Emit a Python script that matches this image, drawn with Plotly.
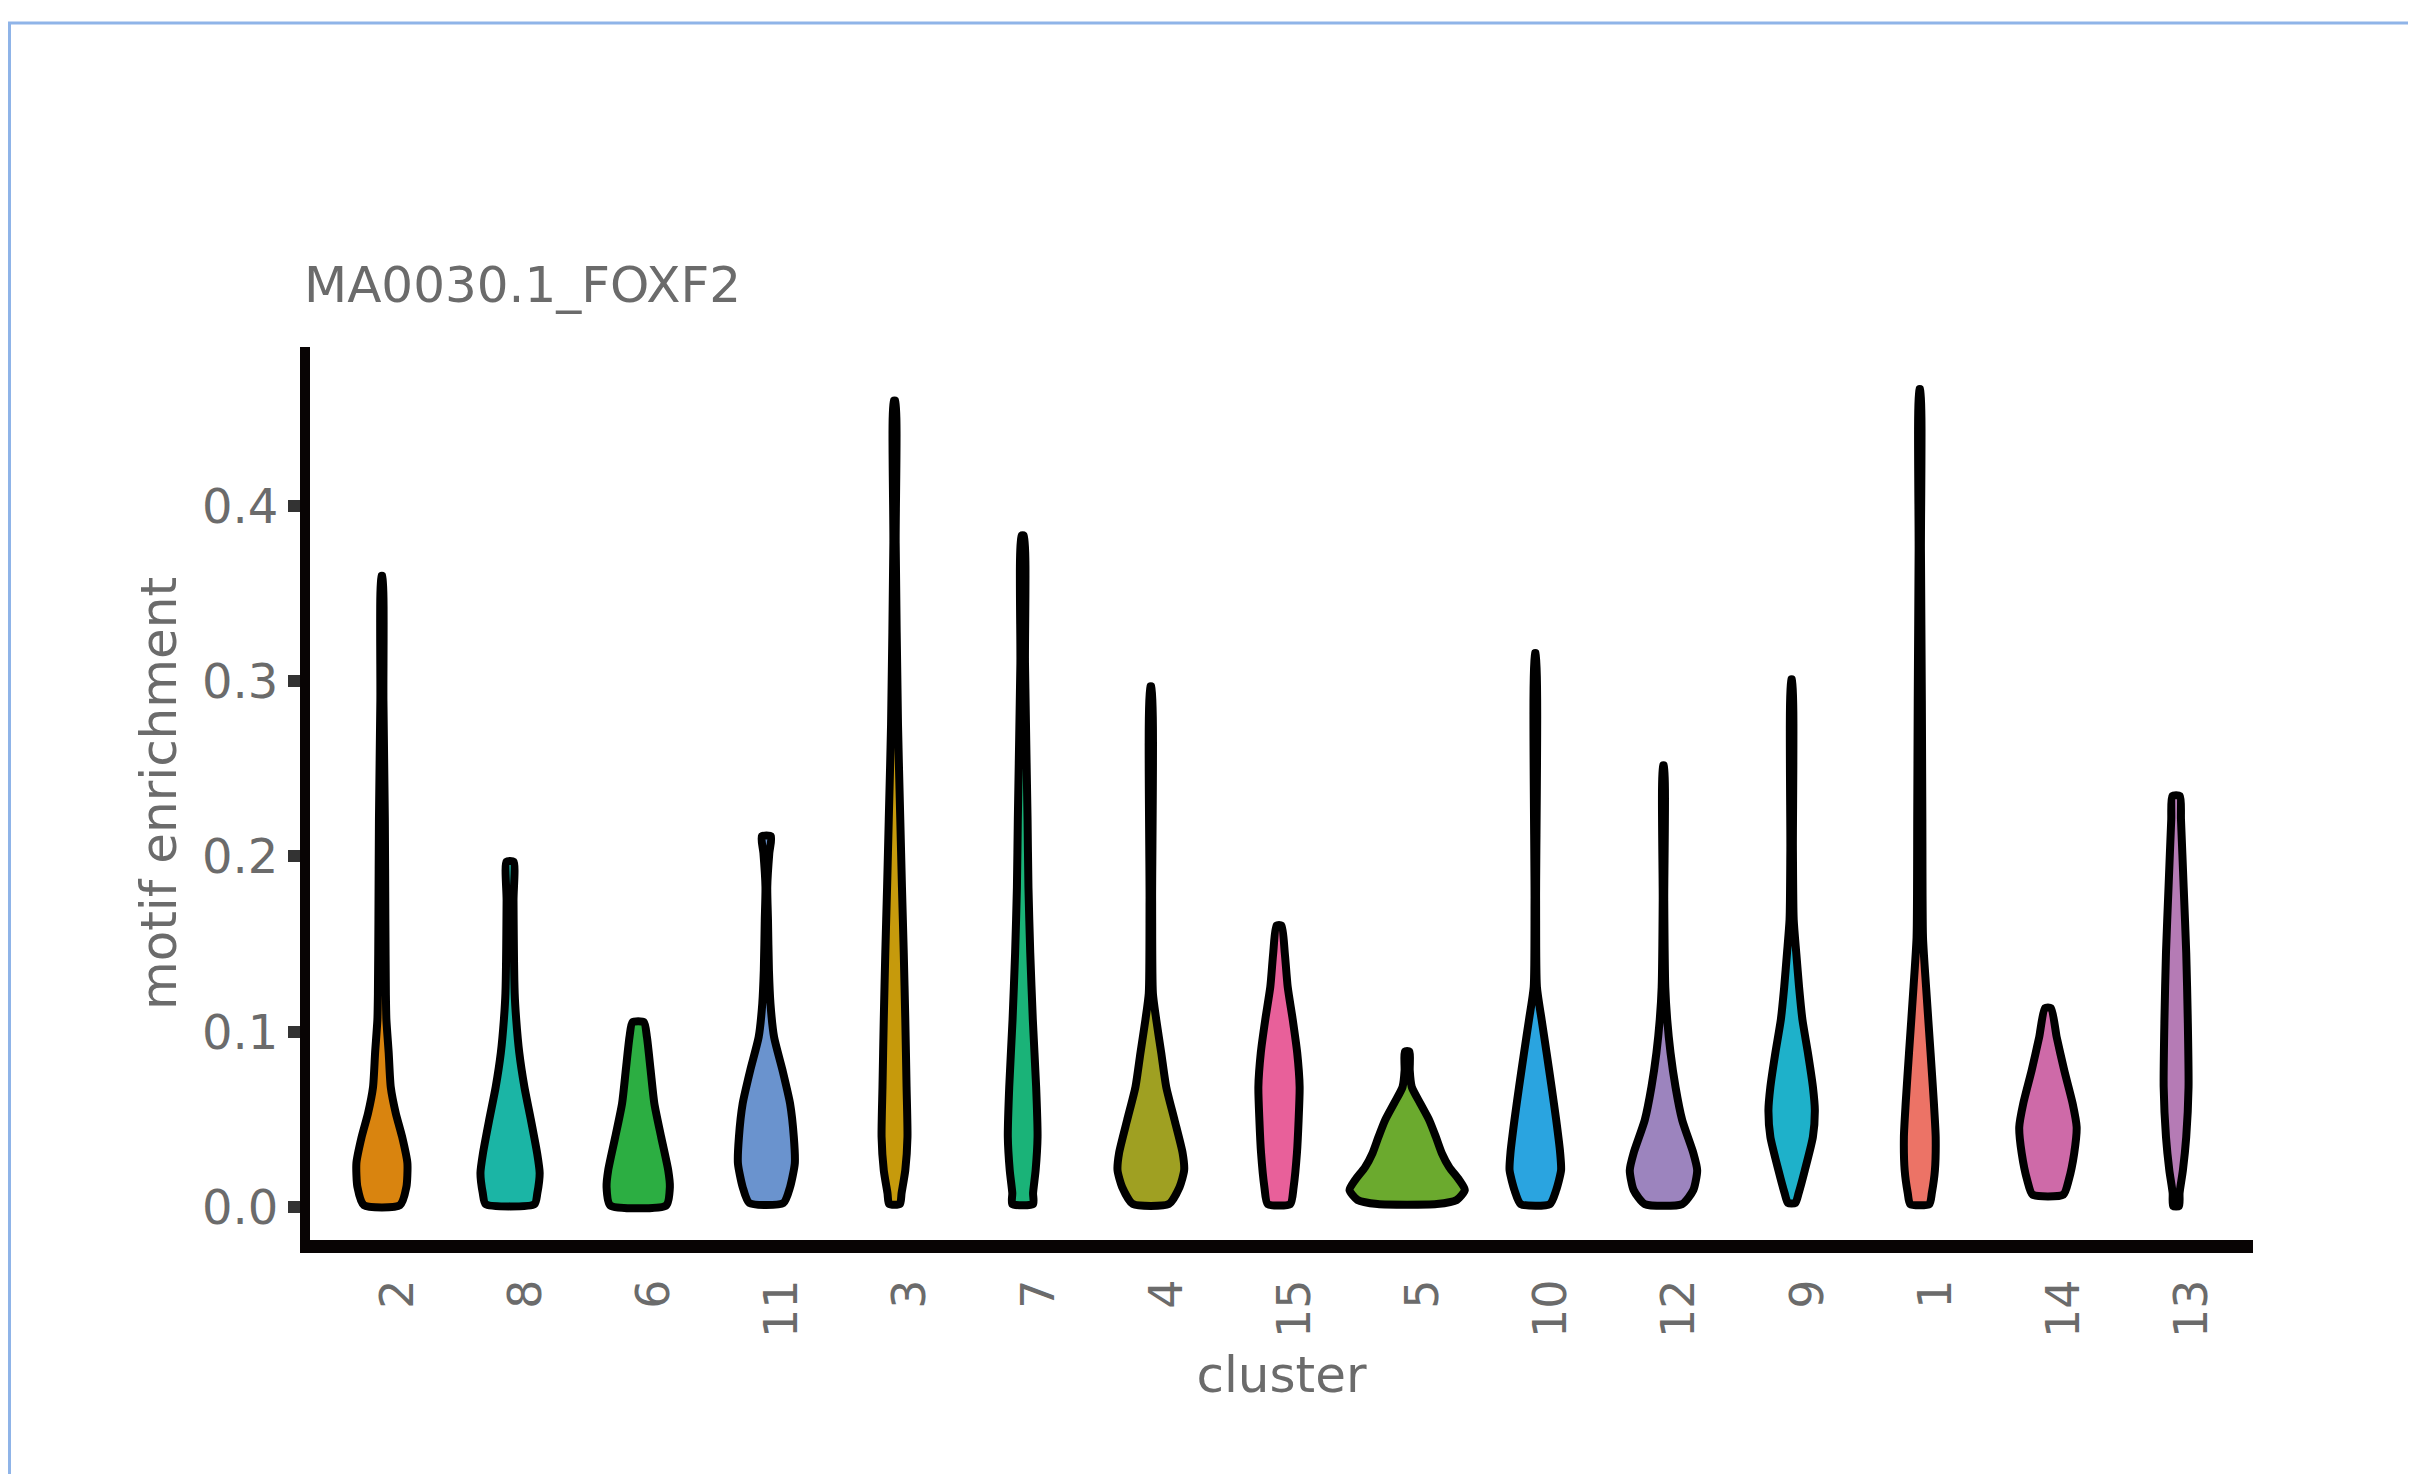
import plotly.graph_objects as go

# ---------------- data ----------------
clusters = ["2", "8", "6", "11", "3", "7", "4", "15", "5", "10", "12", "9", "1", "14", "13"]
colors = ["#D9840F", "#1BB5A5", "#2CAE42", "#6A93CE", "#C69A0C", "#1AB378", "#9FA022",
          "#E8609A", "#6BAA2E", "#2AA4E0", "#9C84BE", "#1EB1CA", "#EC7366", "#CE6AA8", "#B57BB5"]

# violin outlines: motif enrichment levels (bottom -> top) and half-widths (in category units)
c2_y = [0.001, 0.0114, 0.025, 0.040, 0.0536, 0.0685, 0.088, 0.107, 0.122, 0.164, 0.221, 0.289, 0.360]
c2_w = [0.140, 0.191, 0.199, 0.158, 0.108, 0.069, 0.053, 0.035, 0.031, 0.027, 0.023, 0.012, 0.004]
c8_y = [0.0017, 0.008, 0.0194, 0.0308, 0.0496, 0.0685, 0.088, 0.107, 0.122, 0.175, 0.197]
c8_w = [0.191, 0.213, 0.231, 0.211, 0.163, 0.112, 0.072, 0.048, 0.036, 0.027, 0.027]
c6_y = [0.001, 0.0114, 0.021, 0.040, 0.059, 0.078, 0.097, 0.1055]
c6_w = [0.219, 0.247, 0.234, 0.179, 0.126, 0.097, 0.068, 0.044]
c11_y = [0.0023, 0.0114, 0.025, 0.040, 0.059, 0.078, 0.097, 0.116, 0.135, 0.164, 0.1825, 0.202, 0.2115]
c11_w = [0.133, 0.185, 0.222, 0.214, 0.185, 0.126, 0.060, 0.032, 0.020, 0.0125, 0.007, 0.023, 0.036]
c3_y = [0.0017, 0.008, 0.021, 0.040, 0.0685, 0.107, 0.145, 0.1825, 0.221, 0.2755, 0.379, 0.460]
c3_w = [0.042, 0.055, 0.084, 0.101, 0.094, 0.084, 0.072, 0.058, 0.045, 0.027, 0.009, 0.006]
c7_y = [0.0017, 0.008, 0.021, 0.040, 0.0685, 0.107, 0.145, 0.1825, 0.221, 0.310, 0.383]
c7_w = [0.081, 0.081, 0.101, 0.116, 0.105, 0.079, 0.059, 0.045, 0.038, 0.018, 0.009]
c4_y = [0.0017, 0.0114, 0.021, 0.0308, 0.0496, 0.0685, 0.088, 0.107, 0.122, 0.175, 0.297]
c4_w = [0.140, 0.224, 0.260, 0.248, 0.185, 0.120, 0.081, 0.042, 0.016, 0.010, 0.005]
c15_y = [0.0017, 0.0114, 0.0308, 0.0496, 0.0685, 0.088, 0.107, 0.1255, 0.145, 0.1606]
c15_w = [0.088, 0.114, 0.140, 0.153, 0.161, 0.142, 0.107, 0.068, 0.045, 0.019]
c5_y = [0.0017, 0.004, 0.0097, 0.0154, 0.0228, 0.0308, 0.040, 0.0496, 0.0593, 0.0685, 0.078, 0.0887]
c5_w = [0.231, 0.387, 0.450, 0.406, 0.328, 0.270, 0.224, 0.172, 0.101, 0.036, 0.020, 0.018]
c10_y = [0.0017, 0.0097, 0.021, 0.0308, 0.0496, 0.0685, 0.088, 0.107, 0.1255, 0.175, 0.316]
c10_w = [0.114, 0.163, 0.201, 0.194, 0.163, 0.127, 0.088, 0.049, 0.0125, 0.006, 0.004]
c12_y = [0.0017, 0.0097, 0.021, 0.0308, 0.0496, 0.0685, 0.088, 0.107, 0.1255, 0.175, 0.252]
c12_w = [0.146, 0.233, 0.263, 0.233, 0.146, 0.094, 0.055, 0.029, 0.014, 0.006, 0.004]
c9_y = [0.0023, 0.008, 0.021, 0.040, 0.0553, 0.0685, 0.088, 0.107, 0.1255, 0.145, 0.164, 0.204, 0.301]
c9_w = [0.029, 0.055, 0.103, 0.166, 0.181, 0.166, 0.127, 0.084, 0.058, 0.036, 0.016, 0.010, 0.004]
c1_y = [0.0017, 0.008, 0.021, 0.040, 0.0593, 0.088, 0.1255, 0.154, 0.221, 0.289, 0.375, 0.4666]
c1_w = [0.075, 0.094, 0.118, 0.124, 0.110, 0.084, 0.049, 0.025, 0.020, 0.016, 0.009, 0.004]
c14_y = [0.0071, 0.0154, 0.0308, 0.0456, 0.0593, 0.078, 0.097, 0.1135]
c14_w = [0.120, 0.162, 0.205, 0.224, 0.192, 0.127, 0.068, 0.023]
c13_y = [0.0006, 0.008, 0.021, 0.040, 0.0685, 0.107, 0.145, 0.1825, 0.221, 0.2345]
c13_w = [0.023, 0.027, 0.053, 0.079, 0.097, 0.091, 0.079, 0.059, 0.038, 0.029]

y_ticks = [0.0, 0.1, 0.2, 0.3, 0.4]
y_tick_labels = ["0.0", "0.1", "0.2", "0.3", "0.4"]

profiles = {
    "2": (c2_y, c2_w), "8": (c8_y, c8_w), "6": (c6_y, c6_w), "11": (c11_y, c11_w),
    "3": (c3_y, c3_w), "7": (c7_y, c7_w), "4": (c4_y, c4_w), "15": (c15_y, c15_w),
    "5": (c5_y, c5_w), "10": (c10_y, c10_w), "12": (c12_y, c12_w), "9": (c9_y, c9_w),
    "1": (c1_y, c1_w), "14": (c14_y, c14_w), "13": (c13_y, c13_w),
}

# ---------------- figure ----------------
W, H = 2416, 1474
ML, MR, MT, MB = 302, 171, 339, 242
FONT = "DejaVu Sans"
TXT = "#6b6b6b"

fig = go.Figure()
for i, (cl, col) in enumerate(zip(clusters, colors)):
    ys, ws = profiles[cl]
    xs = [i + w for w in ws] + [i - w for w in reversed(ws)] + [i + ws[0]]
    yy = list(ys) + list(reversed(ys)) + [ys[0]]
    fig.add_trace(go.Scatter(
        x=xs, y=yy, mode="lines", fill="toself", fillcolor=col,
        line=dict(color="#000000", width=8, shape="spline", smoothing=0.6),
        name=cl, showlegend=False, hoverinfo="skip",
    ))

plot_w = W - ML - MR
plot_h = H - MT - MB

fig.update_layout(
    width=W, height=H,
    margin=dict(l=ML, r=MR, t=MT, b=MB, pad=0),
    paper_bgcolor="white", plot_bgcolor="white",
    font=dict(family=FONT, color=TXT),
    title=dict(text="MA0030.1_FOXF2", font=dict(family=FONT, size=50, color=TXT),
               xref="container", x=296 / W, xanchor="left",
               yref="container", y=1 - 276 / H, yanchor="middle"),
    showlegend=False,
    xaxis=dict(
        range=[-0.561, 14.6], tickmode="array",
        tickvals=list(range(len(clusters))), ticktext=clusters,
        tickangle=-90, ticks="", showgrid=False, zeroline=False,
        showline=True, linecolor="#080404", linewidth=13,
        tickfont=dict(family=FONT, size=46, color=TXT),
        ticklabelshift=16, ticklabelstandoff=8,
        title=dict(text="cluster", font=dict(family=FONT, size=50, color=TXT), standoff=26),
    ),
    yaxis=dict(
        range=[-0.0188, 0.4906], tickmode="array",
        tickvals=y_ticks, ticktext=y_tick_labels,
        ticks="outside", ticklen=12, tickwidth=12, tickcolor="#333333",
        showgrid=False, zeroline=False,
        showline=True, linecolor="#080404", linewidth=10,
        tickfont=dict(family=FONT, size=48, color=TXT),
        title=dict(text="motif enrichment", font=dict(family=FONT, size=50, color=TXT), standoff=14),
    ),
)

# light-blue panel frame of the surrounding page
fig.add_shape(type="rect", xref="paper", yref="paper",
              x0=(1.5 - ML) / plot_w, x1=(W + 20 - ML) / plot_w,
              y0=(H - MB - (H + 20)) / plot_h, y1=(H - MB - 15) / plot_h,
              line=dict(color="#8fb4e8", width=3), fillcolor="rgba(0,0,0,0)", layer="below")

fig.write_html("out.html")
